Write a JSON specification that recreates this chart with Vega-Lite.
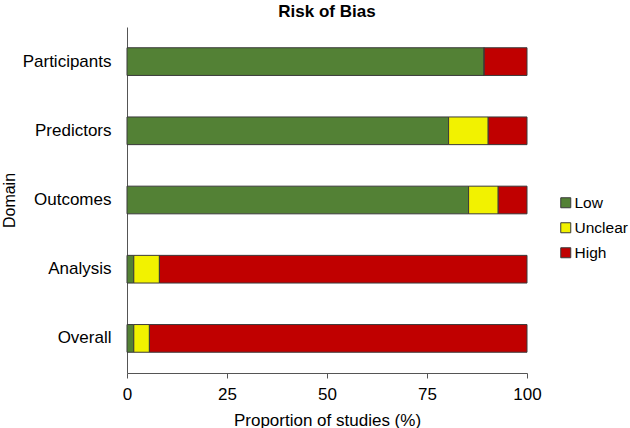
{
  "$schema": "https://vega.github.io/schema/vega-lite/v6.json",
  "autosize": {"type": "none"},
  "padding": {"left": 127, "top": 27, "right": 103, "bottom": 55},
  "width": 400,
  "height": 346,
  "title": {"text": "Risk of Bias", "font": "Liberation Sans", "fontSize": 17, "fontWeight": "bold", "color": "#000000", "anchor": "middle", "offset": 6},
  "config": {"view": {"stroke": null}, "font": "Liberation Sans"},
  "data": {"values": [
    {"domain": "Participants", "risk": "Low", "order": 1, "value": 89.3},
    {"domain": "Participants", "risk": "Unclear", "order": 2, "value": 0},
    {"domain": "Participants", "risk": "High", "order": 3, "value": 10.7},
    {"domain": "Predictors", "risk": "Low", "order": 1, "value": 80.4},
    {"domain": "Predictors", "risk": "Unclear", "order": 2, "value": 9.9},
    {"domain": "Predictors", "risk": "High", "order": 3, "value": 9.7},
    {"domain": "Outcomes", "risk": "Low", "order": 1, "value": 85.4},
    {"domain": "Outcomes", "risk": "Unclear", "order": 2, "value": 7.4},
    {"domain": "Outcomes", "risk": "High", "order": 3, "value": 7.2},
    {"domain": "Analysis", "risk": "Low", "order": 1, "value": 1.7},
    {"domain": "Analysis", "risk": "Unclear", "order": 2, "value": 6.4},
    {"domain": "Analysis", "risk": "High", "order": 3, "value": 91.9},
    {"domain": "Overall", "risk": "Low", "order": 1, "value": 1.7},
    {"domain": "Overall", "risk": "Unclear", "order": 2, "value": 3.9},
    {"domain": "Overall", "risk": "High", "order": 3, "value": 94.4}
  ]},
  "mark": {"type": "bar", "stroke": "#3a3a3a", "strokeWidth": 1},
  "encoding": {
    "y": {
      "field": "domain", "type": "nominal",
      "sort": ["Participants", "Predictors", "Outcomes", "Analysis", "Overall"],
      "scale": {"paddingInner": 0.6, "paddingOuter": 0.3},
      "axis": {"title": "Domain", "titleFontSize": 16, "titleFontWeight": "normal", "titleColor": "#000000", "titlePadding": 5,
               "labelFontSize": 17, "labelColor": "#000000", "labelPadding": 16, "ticks": false, "domainColor": "#555555", "domainWidth": 1}
    },
    "x": {
      "field": "value", "type": "quantitative", "stack": "zero",
      "scale": {"domain": [0, 100], "nice": false},
      "axis": {"title": "Proportion of studies (%)", "values": [0, 25, 50, 75, 100], "grid": false,
               "titleFontSize": 17, "titleFontWeight": "normal", "titleColor": "#000000", "titlePadding": 10,
               "labelFontSize": 17, "labelColor": "#000000", "labelPadding": 8, "tickSize": 5, "tickColor": "#555555", "domainColor": "#555555",
               "labelFlush": false}
    },
    "order": {"field": "order", "type": "quantitative"},
    "color": {
      "field": "risk", "type": "nominal",
      "scale": {"domain": ["Low", "Unclear", "High"], "range": ["#538135", "#f2f200", "#c00000"]},
      "legend": {"title": null, "orient": "none", "legendX": 431, "legendY": 168, "symbolType": "square", "symbolSize": 100,
                 "symbolStrokeColor": "#3a3a3a", "symbolStrokeWidth": 1, "labelFontSize": 15.5, "labelColor": "#000000", "rowPadding": 8, "labelOffset": 1, "labelLimit": 200}
    }
  }
}
